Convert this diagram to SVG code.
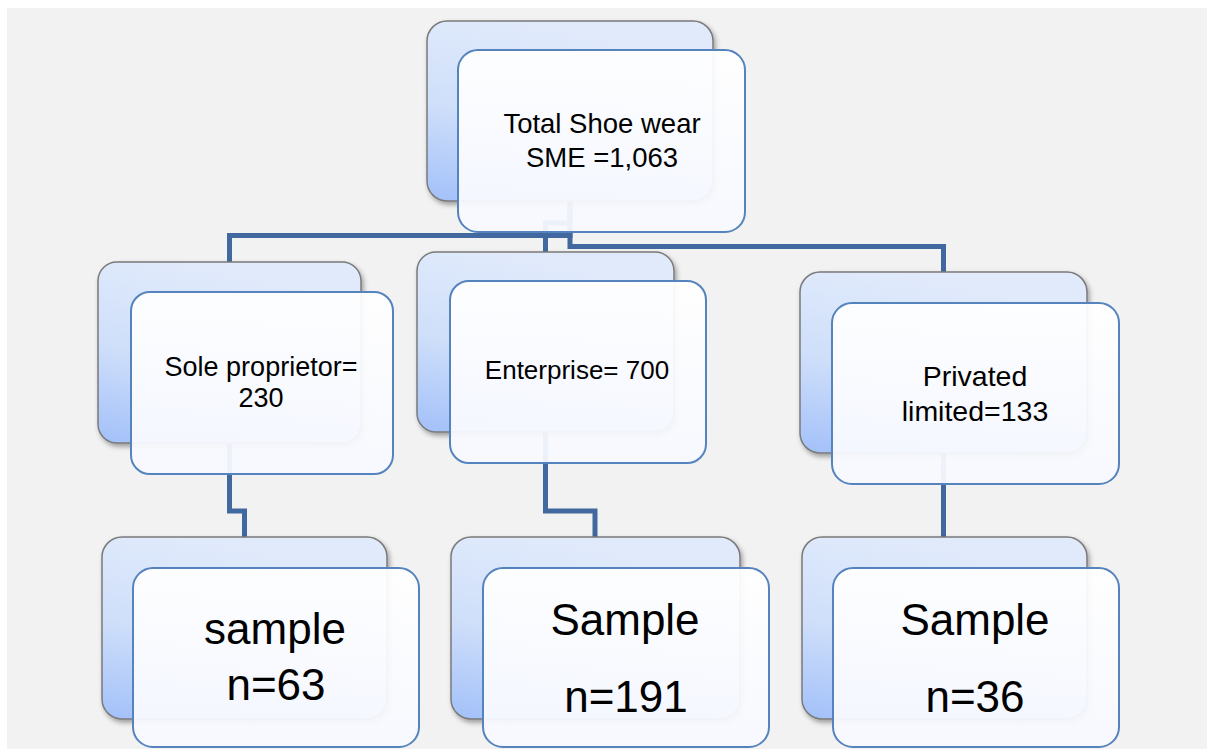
<svg xmlns="http://www.w3.org/2000/svg" width="1207" height="749" viewBox="0 0 1207 749">
<style>
.back{fill:url(#gBack);stroke:#7a7a7a;stroke-width:1.5;filter:url(#sh)}
.front{fill:url(#gFront);fill-opacity:0.94;stroke:#5583bd;stroke-width:2}
.con{fill:none;stroke:#41689f;stroke-width:5;stroke-linejoin:miter}
text{font-family:"Liberation Sans",Arial,sans-serif;fill:#000;text-anchor:middle}
.t1{font-size:27.5px}
.t2{font-size:44px}
</style>
<defs>
<linearGradient id="gBack" x1="0.3" y1="0" x2="0" y2="1">
<stop offset="0" stop-color="#e0eafb"/>
<stop offset="0.5" stop-color="#cfdffa"/>
<stop offset="1" stop-color="#a2c0f9"/>
</linearGradient>
<linearGradient id="gFront" x1="0" y1="0" x2="0" y2="1">
<stop offset="0" stop-color="#ffffff"/>
<stop offset="1" stop-color="#f7f9ff"/>
</linearGradient>
<filter id="sh" x="-10%" y="-10%" width="125%" height="130%">
<feDropShadow dx="2" dy="3" stdDeviation="2.5" flood-color="#000" flood-opacity="0.35"/>
</filter>
</defs>
<rect x="7" y="8" width="1200" height="741" fill="#f2f2f2"/>
<g id="connectors">
<path class="con" d="M570,201 V235.5 H229.5 V262"/>
<path class="con" d="M570,201 V223 H545.5 V252"/>
<path class="con" d="M570,201 V246.5 H943.5 V272"/>
<path class="con" d="M229.5,443 V511 H244.5 V537"/>
<path class="con" d="M545.5,432 V511 H595 V537"/>
<path class="con" d="M943.5,453 V537"/>
</g>
<g id="node-total">
<rect class="back" x="427" y="21" width="286" height="180" rx="20"/>
<rect class="front" x="458" y="50" width="287" height="182" rx="20"/>
<text class="t1" x="602" y="133">Total Shoe wear</text>
<text class="t1" x="602" y="167">SME =1,063</text>
</g>
<g id="node-sole">
<rect class="back" x="98" y="262" width="263" height="181" rx="19"/>
<rect class="front" x="131" y="292" width="262" height="182" rx="19"/>
<text x="261" y="376" style="font-size:27px">Sole proprietor=</text>
<text x="261" y="407" style="font-size:27px">230</text>
</g>
<g id="node-enterprise">
<rect class="back" x="417" y="252" width="257" height="180" rx="19"/>
<rect class="front" x="450" y="281" width="256" height="182" rx="19"/>
<text x="577" y="379" style="font-size:26px">Enterprise= 700</text>
</g>
<g id="node-privated">
<rect class="back" x="800" y="272" width="287" height="181" rx="20"/>
<rect class="front" x="832" y="303" width="287" height="181" rx="20"/>
<text x="975" y="386" style="font-size:28.5px">Privated</text>
<text x="975" y="421" style="font-size:28.5px">limited=133</text>
</g>
<g id="node-sample1">
<rect class="back" x="102" y="537" width="285" height="182" rx="20"/>
<rect class="front" x="133" y="568" width="286" height="179" rx="20"/>
<text class="t2" x="275" y="644">sample</text>
<text class="t2" x="276" y="700">n=63</text>
</g>
<g id="node-sample2">
<rect class="back" x="451" y="537" width="289" height="182" rx="20"/>
<rect class="front" x="483" y="568" width="286" height="179" rx="20"/>
<text class="t2" x="625" y="635">Sample</text>
<text class="t2" x="626" y="712">n=191</text>
</g>
<g id="node-sample3">
<rect class="back" x="802" y="537" width="285" height="182" rx="20"/>
<rect class="front" x="833" y="568" width="286" height="179" rx="20"/>
<text class="t2" x="975" y="635">Sample</text>
<text class="t2" x="975" y="712">n=36</text>
</g>
</svg>
